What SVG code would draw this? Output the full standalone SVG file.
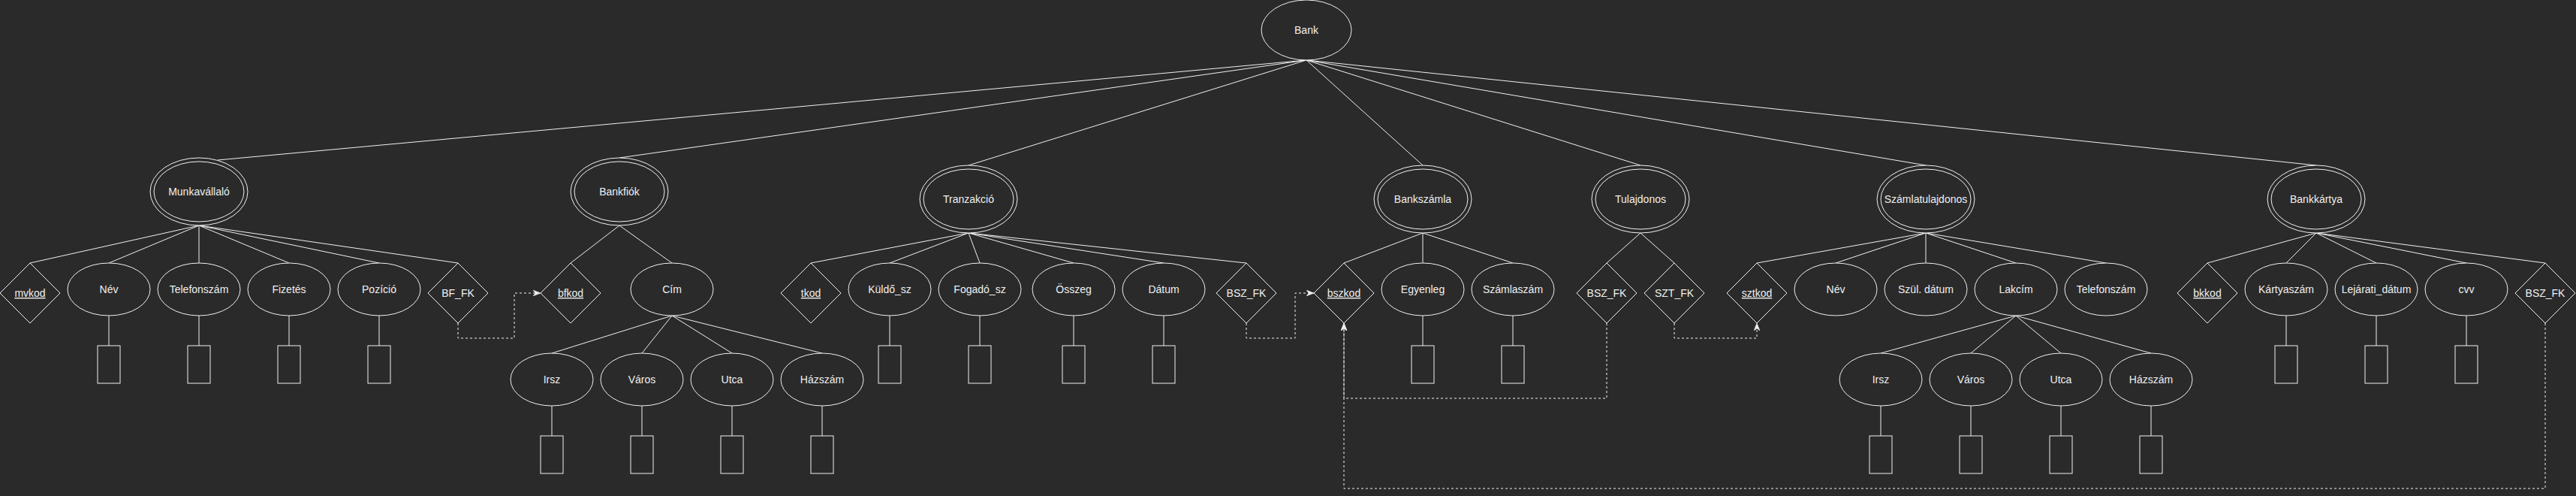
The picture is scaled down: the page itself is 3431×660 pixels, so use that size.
<svg xmlns="http://www.w3.org/2000/svg" width="3431" height="660" viewBox="0 0 3431 660">
<style>
.bg{fill:#2a2a2a}
.sh{fill:#2a2a2a;stroke:#f0f0f0;stroke-width:1}
.ln{fill:none;stroke:#f0f0f0;stroke-width:1}
.fk{fill:none;stroke:#f0f0f0;stroke-width:1;stroke-dasharray:3 3}
text{font-family:"Liberation Sans",Arial,Helvetica,sans-serif;font-size:14px;fill:#f0f0f0;text-anchor:middle}
.u{text-decoration:underline}
</style>
<defs>
<marker id="arr" viewBox="0 0 10 8" refX="10" refY="4" markerWidth="10" markerHeight="8" markerUnits="userSpaceOnUse" orient="auto">
<path d="M0,0 L10,4 L0,8 L3,4 Z" fill="#f0f0f0" stroke="#f0f0f0" stroke-width="0.5"/>
</marker>
</defs>
<rect class="bg" x="0" y="0" width="3431" height="660"/>

<g id="connectors">
<!-- Bank to entities -->
<path class="ln" d="M1740,80 L290,213"/>
<path class="ln" d="M1740,80 L825,210"/>
<path class="ln" d="M1740,80 L1290,220"/>
<path class="ln" d="M1740,80 L1895,220"/>
<path class="ln" d="M1740,80 L2185,220"/>
<path class="ln" d="M1740,80 L2565,220"/>
<path class="ln" d="M1740,80 L3085,220"/>
<!-- Munkavallalo -->
<path class="ln" d="M265,300 L40,350 M265,300 L145,350 M265,300 L265,350 M265,300 L385,350 M265,300 L505,350 M265,300 L610,350"/>
<path class="ln" d="M145,420 L145,460 M265,420 L265,460 M385,420 L385,460 M505,420 L505,460"/>
<!-- Bankfiok -->
<path class="ln" d="M825,300 L760,350 M825,300 L895,350"/>
<path class="ln" d="M895,420 L735,470 M895,420 L855,470 M895,420 L975,470 M895,420 L1095,470"/>
<path class="ln" d="M735,540 L735,580 M855,540 L855,580 M975,540 L975,580 M1095,540 L1095,580"/>
<!-- Tranzakcio -->
<path class="ln" d="M1290,310 L1080,350 M1290,310 L1185,350 M1290,310 L1305,350 M1290,310 L1430,350 M1290,310 L1550,350 M1290,310 L1660,350"/>
<path class="ln" d="M1185,420 L1185,460 M1305,420 L1305,460 M1430,420 L1430,460 M1550,420 L1550,460"/>
<!-- Bankszamla -->
<path class="ln" d="M1895,310 L1790,350 M1895,310 L1895,350 M1895,310 L2015,350"/>
<path class="ln" d="M1895,420 L1895,460 M2015,420 L2015,460"/>
<!-- Tulajdonos -->
<path class="ln" d="M2185,310 L2140,350 M2185,310 L2230,350"/>
<!-- Szamlatulajdonos -->
<path class="ln" d="M2565,310 L2340,350 M2565,310 L2445,350 M2565,310 L2565,350 M2565,310 L2685,350 M2565,310 L2805,350"/>
<path class="ln" d="M2685,420 L2505,470 M2685,420 L2625,470 M2685,420 L2745,470 M2685,420 L2865,470"/>
<path class="ln" d="M2505,540 L2505,580 M2625,540 L2625,580 M2745,540 L2745,580 M2865,540 L2865,580"/>
<!-- Bankkartya -->
<path class="ln" d="M3085,310 L2940,350 M3085,310 L3045,350 M3085,310 L3165,350 M3085,310 L3285,350 M3085,310 L3390,350"/>
<path class="ln" d="M3045,420 L3045,460 M3165,420 L3165,460 M3285,420 L3285,460"/>
<!-- foreign keys -->
<path class="fk" d="M610,430 L610,450 L685,450 L685,390 L720,390" marker-end="url(#arr)"/>
<path class="fk" d="M1660,430 L1660,450 L1725,450 L1725,390 L1750,390" marker-end="url(#arr)"/>
<path class="fk" d="M2140,430 L2140,530 L1790,530 L1790,430" marker-end="url(#arr)"/>
<path class="fk" d="M2230,430 L2230,450 L2340,450 L2340,430" marker-end="url(#arr)"/>
<path class="fk" d="M3390,430 L3390,650 L1790,650 L1790,430" marker-end="url(#arr)"/>
</g>

<g id="bank"><ellipse class="sh" cx="1740" cy="40" rx="60" ry="40"/><text x="1740" y="45">Bank</text></g>

<g id="munkavallalo"><ellipse class="sh" cx="265" cy="255" rx="65" ry="45"/><ellipse class="sh" cx="265" cy="255" rx="60" ry="40"/><text x="265" y="260">Munkavállaló</text></g>
<g id="mv-mvkod"><path class="sh" d="M40,350 L80,390 L40,430 L0,390 Z"/><text class="u" x="40" y="395">mvkod</text></g>
<g id="mv-nev"><ellipse class="sh" cx="145" cy="385" rx="55" ry="35"/><text x="145" y="390">Név</text><rect class="sh" x="130" y="460" width="30" height="50"/></g>
<g id="mv-telefonszam"><ellipse class="sh" cx="265" cy="385" rx="55" ry="35"/><text x="265" y="390">Telefonszám</text><rect class="sh" x="250" y="460" width="30" height="50"/></g>
<g id="mv-fizetes"><ellipse class="sh" cx="385" cy="385" rx="55" ry="35"/><text x="385" y="390">Fizetés</text><rect class="sh" x="370" y="460" width="30" height="50"/></g>
<g id="mv-pozicio"><ellipse class="sh" cx="505" cy="385" rx="55" ry="35"/><text x="505" y="390">Pozíció</text><rect class="sh" x="490" y="460" width="30" height="50"/></g>
<g id="mv-bf-fk"><path class="sh" d="M610,350 L650,390 L610,430 L570,390 Z"/><text x="610" y="395">BF_FK</text></g>

<g id="bankfiok"><ellipse class="sh" cx="825" cy="255" rx="65" ry="45"/><ellipse class="sh" cx="825" cy="255" rx="60" ry="40"/><text x="825" y="260">Bankfiók</text></g>
<g id="bf-bfkod"><path class="sh" d="M760,350 L800,390 L760,430 L720,390 Z"/><text class="u" x="760" y="395">bfkod</text></g>
<g id="bf-cim"><ellipse class="sh" cx="895" cy="385" rx="55" ry="35"/><text x="895" y="390">Cím</text></g>
<g id="bf-irsz"><ellipse class="sh" cx="735" cy="505" rx="55" ry="35"/><text x="735" y="510">Irsz</text><rect class="sh" x="720" y="580" width="30" height="50"/></g>
<g id="bf-varos"><ellipse class="sh" cx="855" cy="505" rx="55" ry="35"/><text x="855" y="510">Város</text><rect class="sh" x="840" y="580" width="30" height="50"/></g>
<g id="bf-utca"><ellipse class="sh" cx="975" cy="505" rx="55" ry="35"/><text x="975" y="510">Utca</text><rect class="sh" x="960" y="580" width="30" height="50"/></g>
<g id="bf-hazszam"><ellipse class="sh" cx="1095" cy="505" rx="55" ry="35"/><text x="1095" y="510">Házszám</text><rect class="sh" x="1080" y="580" width="30" height="50"/></g>

<g id="tranzakcio"><ellipse class="sh" cx="1290" cy="265" rx="65" ry="45"/><ellipse class="sh" cx="1290" cy="265" rx="60" ry="40"/><text x="1290" y="270">Tranzakció</text></g>
<g id="tr-tkod"><path class="sh" d="M1080,350 L1120,390 L1080,430 L1040,390 Z"/><text class="u" x="1080" y="395">tkod</text></g>
<g id="tr-kuldo"><ellipse class="sh" cx="1185" cy="385" rx="55" ry="35"/><text x="1185" y="390">Küldő_sz</text><rect class="sh" x="1170" y="460" width="30" height="50"/></g>
<g id="tr-fogado"><ellipse class="sh" cx="1305" cy="385" rx="55" ry="35"/><text x="1305" y="390">Fogadó_sz</text><rect class="sh" x="1290" y="460" width="30" height="50"/></g>
<g id="tr-osszeg"><ellipse class="sh" cx="1430" cy="385" rx="55" ry="35"/><text x="1430" y="390">Összeg</text><rect class="sh" x="1415" y="460" width="30" height="50"/></g>
<g id="tr-datum"><ellipse class="sh" cx="1550" cy="385" rx="55" ry="35"/><text x="1550" y="390">Dátum</text><rect class="sh" x="1535" y="460" width="30" height="50"/></g>
<g id="tr-bsz-fk"><path class="sh" d="M1660,350 L1700,390 L1660,430 L1620,390 Z"/><text x="1660" y="395">BSZ_FK</text></g>

<g id="bankszamla"><ellipse class="sh" cx="1895" cy="265" rx="65" ry="45"/><ellipse class="sh" cx="1895" cy="265" rx="60" ry="40"/><text x="1895" y="270">Bankszámla</text></g>
<g id="bsz-bskod"><path class="sh" d="M1790,350 L1830,390 L1790,430 L1750,390 Z"/><text class="u" x="1790" y="395">bszkod</text></g>
<g id="bsz-egyenleg"><ellipse class="sh" cx="1895" cy="385" rx="55" ry="35"/><text x="1895" y="390">Egyenleg</text><rect class="sh" x="1880" y="460" width="30" height="50"/></g>
<g id="bsz-szamlaszam"><ellipse class="sh" cx="2015" cy="385" rx="55" ry="35"/><text x="2015" y="390">Számlaszám</text><rect class="sh" x="2000" y="460" width="30" height="50"/></g>

<g id="tulajdonos"><ellipse class="sh" cx="2185" cy="265" rx="65" ry="45"/><ellipse class="sh" cx="2185" cy="265" rx="60" ry="40"/><text x="2185" y="270">Tulajdonos</text></g>
<g id="tu-bsz-fk"><path class="sh" d="M2140,350 L2180,390 L2140,430 L2100,390 Z"/><text x="2140" y="395">BSZ_FK</text></g>
<g id="tu-szt-fk"><path class="sh" d="M2230,350 L2270,390 L2230,430 L2190,390 Z"/><text x="2230" y="395">SZT_FK</text></g>

<g id="szamlatulajdonos"><ellipse class="sh" cx="2565" cy="265" rx="65" ry="45"/><ellipse class="sh" cx="2565" cy="265" rx="60" ry="40"/><text x="2565" y="270">Számlatulajdonos</text></g>
<g id="szt-sztkod"><path class="sh" d="M2340,350 L2380,390 L2340,430 L2300,390 Z"/><text class="u" x="2340" y="395">sztkod</text></g>
<g id="szt-nev"><ellipse class="sh" cx="2445" cy="385" rx="55" ry="35"/><text x="2445" y="390">Név</text></g>
<g id="szt-szul"><ellipse class="sh" cx="2565" cy="385" rx="55" ry="35"/><text x="2565" y="390">Szül. dátum</text></g>
<g id="szt-lakcim"><ellipse class="sh" cx="2685" cy="385" rx="55" ry="35"/><text x="2685" y="390">Lakcím</text></g>
<g id="szt-telefonszam"><ellipse class="sh" cx="2805" cy="385" rx="55" ry="35"/><text x="2805" y="390">Telefonszám</text></g>
<g id="szt-irsz"><ellipse class="sh" cx="2505" cy="505" rx="55" ry="35"/><text x="2505" y="510">Irsz</text><rect class="sh" x="2490" y="580" width="30" height="50"/></g>
<g id="szt-varos"><ellipse class="sh" cx="2625" cy="505" rx="55" ry="35"/><text x="2625" y="510">Város</text><rect class="sh" x="2610" y="580" width="30" height="50"/></g>
<g id="szt-utca"><ellipse class="sh" cx="2745" cy="505" rx="55" ry="35"/><text x="2745" y="510">Utca</text><rect class="sh" x="2730" y="580" width="30" height="50"/></g>
<g id="szt-hazszam"><ellipse class="sh" cx="2865" cy="505" rx="55" ry="35"/><text x="2865" y="510">Házszám</text><rect class="sh" x="2850" y="580" width="30" height="50"/></g>

<g id="bankkartya"><ellipse class="sh" cx="3085" cy="265" rx="65" ry="45"/><ellipse class="sh" cx="3085" cy="265" rx="60" ry="40"/><text x="3085" y="270">Bankkártya</text></g>
<g id="bk-bkkod"><path class="sh" d="M2940,350 L2980,390 L2940,430 L2900,390 Z"/><text class="u" x="2940" y="395">bkkod</text></g>
<g id="bk-kartyaszam"><ellipse class="sh" cx="3045" cy="385" rx="55" ry="35"/><text x="3045" y="390">Kártyaszám</text><rect class="sh" x="3030" y="460" width="30" height="50"/></g>
<g id="bk-lejarati"><ellipse class="sh" cx="3165" cy="385" rx="55" ry="35"/><text x="3165" y="390">Lejárati_dátum</text><rect class="sh" x="3150" y="460" width="30" height="50"/></g>
<g id="bk-cvv"><ellipse class="sh" cx="3285" cy="385" rx="55" ry="35"/><text x="3285" y="390">cvv</text><rect class="sh" x="3270" y="460" width="30" height="50"/></g>
<g id="bk-bsz-fk"><path class="sh" d="M3390,350 L3430,390 L3390,430 L3350,390 Z"/><text x="3390" y="395">BSZ_FK</text></g>
</svg>
